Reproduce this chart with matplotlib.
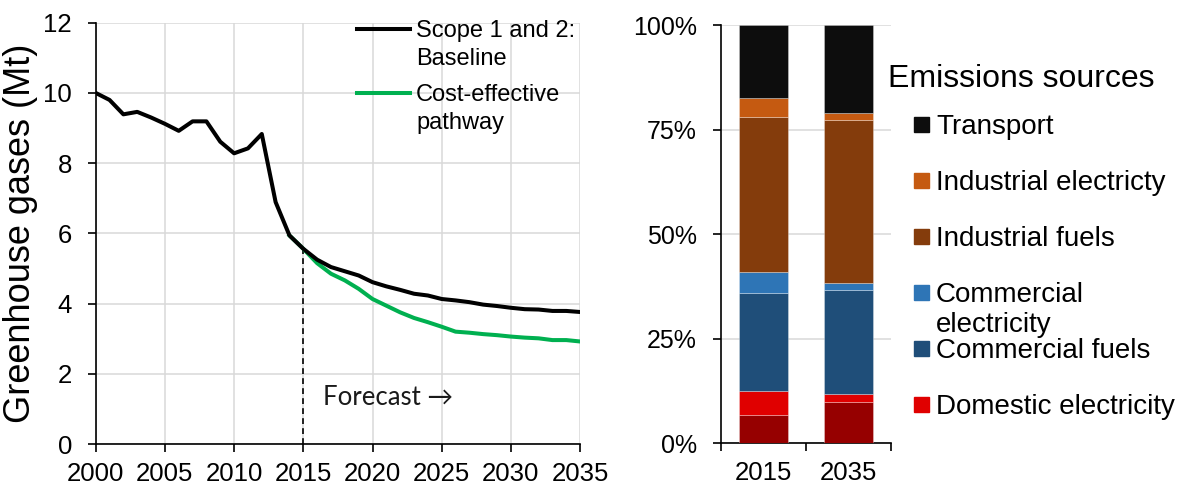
import numpy as np
import matplotlib
matplotlib.use("Agg")
import matplotlib.pyplot as plt
from matplotlib.lines import Line2D
from matplotlib.patches import Rectangle
from matplotlib.ticker import PercentFormatter

plt.rcParams['font.family'] = ['Liberation Sans', 'DejaVu Sans']

# ---- data: left chart (Mt CO2e) ----
years = np.arange(2000, 2036)
baseline = [10.0, 9.8, 9.39, 9.46, 9.3, 9.12, 8.92, 9.19, 9.19, 8.61,
            8.28, 8.42, 8.83, 6.89, 5.94, 5.56, 5.25, 5.04, 4.92, 4.8,
            4.61, 4.49, 4.39, 4.28, 4.23, 4.13, 4.09, 4.04, 3.97, 3.93,
            3.88, 3.84, 3.83, 3.79, 3.79, 3.76]
pathway_years = np.arange(2014, 2036)
pathway = [5.94, 5.56, 5.15, 4.85, 4.66, 4.42, 4.13, 3.94, 3.75, 3.59,
           3.47, 3.34, 3.2, 3.17, 3.13, 3.1, 3.06, 3.03, 3.01, 2.96,
           2.96, 2.92]
forecast_start = 2015
line_labels = [["Scope 1 and 2:", "Baseline"], ["Cost-effective", "pathway"]]

# ---- data: right chart (share of emissions, %) ----
bar_years = ['2015', '2035']
domestic_fuels = [6.8, 9.9]
domestic_elec = [5.6, 2.0]
commercial_fuels = [23.6, 24.7]
commercial_elec = [4.9, 1.8]
industrial_fuels = [37.2, 38.8]
industrial_elec = [4.4, 1.7]
transport = [17.5, 21.1]

segments = [
    ("Domestic fuels", domestic_fuels, '#960000'),
    ("Domestic electricity", domestic_elec, '#e00000'),
    ("Commercial fuels", commercial_fuels, '#1f4e79'),
    ("Commercial\nelectricity", commercial_elec, '#2e75b6'),
    ("Industrial fuels", industrial_fuels, '#843c0c'),
    ("Industrial electricty", industrial_elec, '#c55a11'),
    ("Transport", transport, '#0d0d0d'),
]
# legend shows these, top to bottom (domestic fuels is cut off in the original)
legend_order = ["Transport", "Industrial electricty", "Industrial fuels",
                "Commercial\nelectricity", "Commercial fuels", "Domestic electricity"]

W, H = 1183, 487
fig = plt.figure(figsize=(W / 100, H / 100), dpi=100)


def fx(px):
    return px / W


def fy(py):
    return 1 - py / H


grid_c = '#d9d9d9'

# ---------------- left: line chart ----------------
ax = fig.add_axes([fx(95.7), fy(444), fx(580.1 - 95.7), (444 - 22.7) / H])
ax.plot(years, baseline, color='black', lw=2.9, zorder=4, solid_joinstyle='round')
ax.plot(pathway_years, pathway, color='#00b050', lw=2.9, zorder=3, solid_joinstyle='round')
ax.vlines(forecast_start, 0, baseline[list(years).index(forecast_start)],
          colors='black', linestyles=(0, (3.5, 2.5)), lw=1.2, zorder=2)
ax.text(2016.4, 1.32, "Forecast \u2192", fontsize=18.5, family=['Lato', 'DejaVu Sans'],
        ha='left', va='center', color='#1a1a1a')

ax.set_xlim(2000, 2035)
ax.set_ylim(0, 12)
ax.set_xticks(np.arange(2000, 2036, 5))
ax.set_yticks(np.arange(0, 13, 2))
ax.grid(True, color=grid_c, lw=1.1)
ax.set_axisbelow(True)
for s in ['top', 'right']:
    ax.spines[s].set_visible(False)
for s in ['left', 'bottom']:
    ax.spines[s].set_linewidth(1.2)
ax.tick_params(axis='x', labelsize=18.5, length=6, width=1.2, pad=7)
ax.tick_params(axis='y', labelsize=18.5, length=6, width=1.2, pad=11)
ax.set_ylabel("Greenhouse gases (Mt)", fontsize=26, labelpad=4)

# legend for the line chart, drawn by hand so the handle sits on the first line
for (l1, l2), color, ly in zip(line_labels, ['black', '#00b050'], [29, 93]):
    fig.add_artist(Line2D([fx(357), fx(410)], [fy(ly), fy(ly)], color=color, lw=2.9,
                          transform=fig.transFigure))
    fig.text(fx(416), fy(ly + 8), l1, fontsize=17, va='baseline', ha='left')
    fig.text(fx(416), fy(ly + 36), l2, fontsize=17, va='baseline', ha='left')

# ---------------- right: stacked bars ----------------
bx = fig.add_axes([fx(720.7), fy(443.3), fx(891 - 720.7), (443.3 - 25) / H])
xpos = np.arange(len(bar_years))
bottom = np.zeros(len(bar_years))
for name, vals, color in segments:
    bx.bar(xpos, vals, bottom=bottom, width=0.57, color=color,
           edgecolor=(1, 1, 1, 0.35), linewidth=0.6, zorder=3)
    bottom += np.array(vals)

bx.set_xlim(-0.5, 1.5)
bx.set_ylim(0, 100)
bx.set_yticks([0, 25, 50, 75, 100])
bx.yaxis.set_major_formatter(PercentFormatter(decimals=0))
bx.set_xticks(xpos)
bx.set_xticklabels(bar_years)
bx.set_xticks([-0.5, 0.5, 1.5], minor=True)
bx.tick_params(axis='x', which='major', length=0, labelsize=18.5, pad=13)
bx.tick_params(axis='x', which='minor', length=6, width=1.2)
bx.tick_params(axis='y', labelsize=18, length=6, width=1.2, pad=11)
bx.grid(True, axis='y', color=grid_c, lw=1.1)
bx.set_axisbelow(True)
for s in ['top', 'right']:
    bx.spines[s].set_visible(False)
for s in ['left', 'bottom']:
    bx.spines[s].set_linewidth(1.2)

# legend for the bars
colors = {name: color for name, _, color in segments}
fig.text(fx(888), fy(87.3), "Emissions sources", fontsize=23, ha='left', va='baseline')
for i, name in enumerate(legend_order):
    cy = 124.3 + 56 * i
    fig.add_artist(Rectangle((fx(914), fy(cy + 7.5)), fx(15), 15 / H,
                             color=colors[name], transform=fig.transFigure))
    for j, part in enumerate(name.split("\n")):
        fig.text(fx(936), fy(cy + 10 + 30 * j), part, fontsize=20, ha='left', va='baseline')

fig.savefig("out.png", dpi=100)
